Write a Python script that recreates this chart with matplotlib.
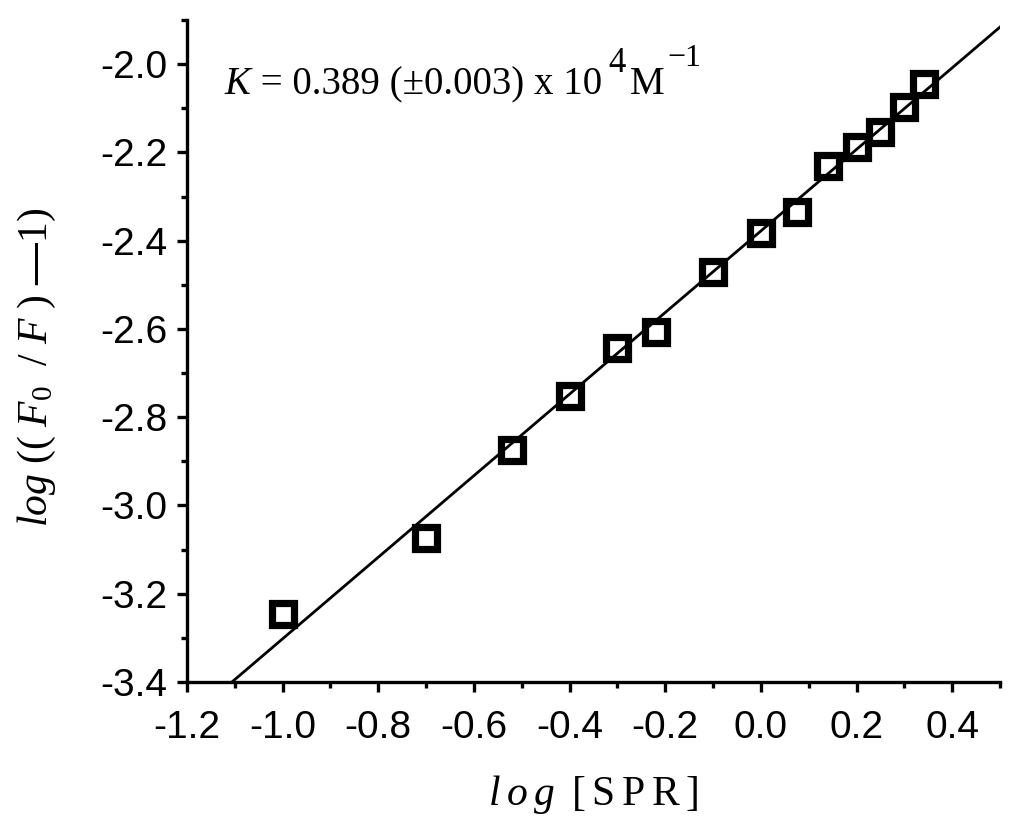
import matplotlib
matplotlib.use("Agg")
import matplotlib.pyplot as plt
import numpy as np
from matplotlib.ticker import MultipleLocator

# Data
log_spr = [-1.00, -0.70, -0.52, -0.40, -0.30, -0.22, -0.10, 0.00, 0.075, 0.14, 0.20, 0.25, 0.30, 0.34]
log_f = [-3.246, -3.073, -2.874, -2.751, -2.644, -2.608, -2.470, -2.383, -2.334, -2.231, -2.188, -2.154, -2.098, -2.045]
fit_slope = 0.924
fit_intercept = -2.378
fit_range = [-1.2, 0.5]
x_ticks = [-1.2, -1.0, -0.8, -0.6, -0.4, -0.2, 0.0, 0.2, 0.4]
y_ticks = [-3.4, -3.2, -3.0, -2.8, -2.6, -2.4, -2.2, -2.0]

plt.rcParams['mathtext.fontset'] = 'custom'
plt.rcParams['mathtext.rm'] = 'Liberation Serif'
plt.rcParams['mathtext.it'] = 'Liberation Serif:italic'
plt.rcParams['mathtext.bf'] = 'Liberation Serif:bold'

fig = plt.figure(figsize=(10.24, 8.25), dpi=100)
ax = fig.add_axes([0.1826, 0.1733, 0.794, 0.8025])

xf = np.array(fit_range)
ax.plot(xf, fit_slope * xf + fit_intercept, color='black', lw=2.0, zorder=2)
ax.plot(log_spr, log_f, linestyle='none', marker='s', markersize=15.5,
        markerfacecolor='none', markeredgecolor='black', markeredgewidth=5.2, zorder=3)

ax.set_xlim(-1.2, 0.5)
ax.set_ylim(-3.4, -1.9)
ax.set_xticks(x_ticks)
ax.set_yticks(y_ticks)
ax.set_xticklabels([f"{v:.1f}" for v in x_ticks])
ax.set_yticklabels([f"{v:.1f}" for v in y_ticks])
ax.xaxis.set_minor_locator(MultipleLocator(0.1))
ax.yaxis.set_minor_locator(MultipleLocator(0.1))

for s in ['top', 'right']:
    ax.spines[s].set_visible(False)
for s in ['left', 'bottom']:
    ax.spines[s].set_linewidth(2.4)

ax.tick_params(which='major', direction='out', length=7, width=2.4)
ax.tick_params(which='minor', direction='out', length=4.5, width=2.4)
ax.tick_params(axis='x', which='major', pad=13)
ax.tick_params(axis='y', which='major', pad=7)
for lab in ax.get_xticklabels() + ax.get_yticklabels():
    lab.set_fontfamily('Liberation Sans')
    lab.set_fontsize(28)

ax.set_xlabel(r"$\it{l\:o\:g}\;\;\mathrm{[\:S\:P\:R\:]}$", fontsize=30)
ax.xaxis.set_label_coords(0.5, -0.1375)
ax.set_ylabel(r"$\it{log}\ \mathrm{((}\ \it{F_0}\ \ \mathrm{/}\ \it{F}\ \mathrm{)}\ \mathbf{—}\mathrm{1)}$",
              fontsize=30)
ax.yaxis.set_label_coords(-0.159, 0.476)

# Annotation with full-size raised exponents, built from chained text pieces
serif = 'Liberation Serif'
t1 = ax.text(-1.121, -2.068, "K", fontstyle='italic', family=serif,
             fontsize=28, ha='left', va='baseline')
t2 = ax.annotate(" = 0.389 (±0.003) x 10", xy=(1, 0), xycoords=t1,
                 xytext=(0, 0), textcoords='offset points',
                 family=serif, fontsize=28, ha='left', va='bottom')
t3 = ax.annotate("4", xy=(1, 0), xycoords=t2, xytext=(5, 17),
                 textcoords='offset points', family=serif, fontsize=25,
                 ha='left', va='bottom')
t4 = ax.annotate("M", xy=(1, 0), xycoords=(t3, t2), xytext=(3, 0),
                 textcoords='offset points', family=serif, fontsize=28,
                 ha='left', va='bottom')
t5 = ax.annotate("\u22121", xy=(1, 0), xycoords=(t4, t2), xytext=(2, 22),
                 textcoords='offset points', family=serif, fontsize=23,
                 ha='left', va='bottom')

fig.savefig("out.png", dpi=100)
